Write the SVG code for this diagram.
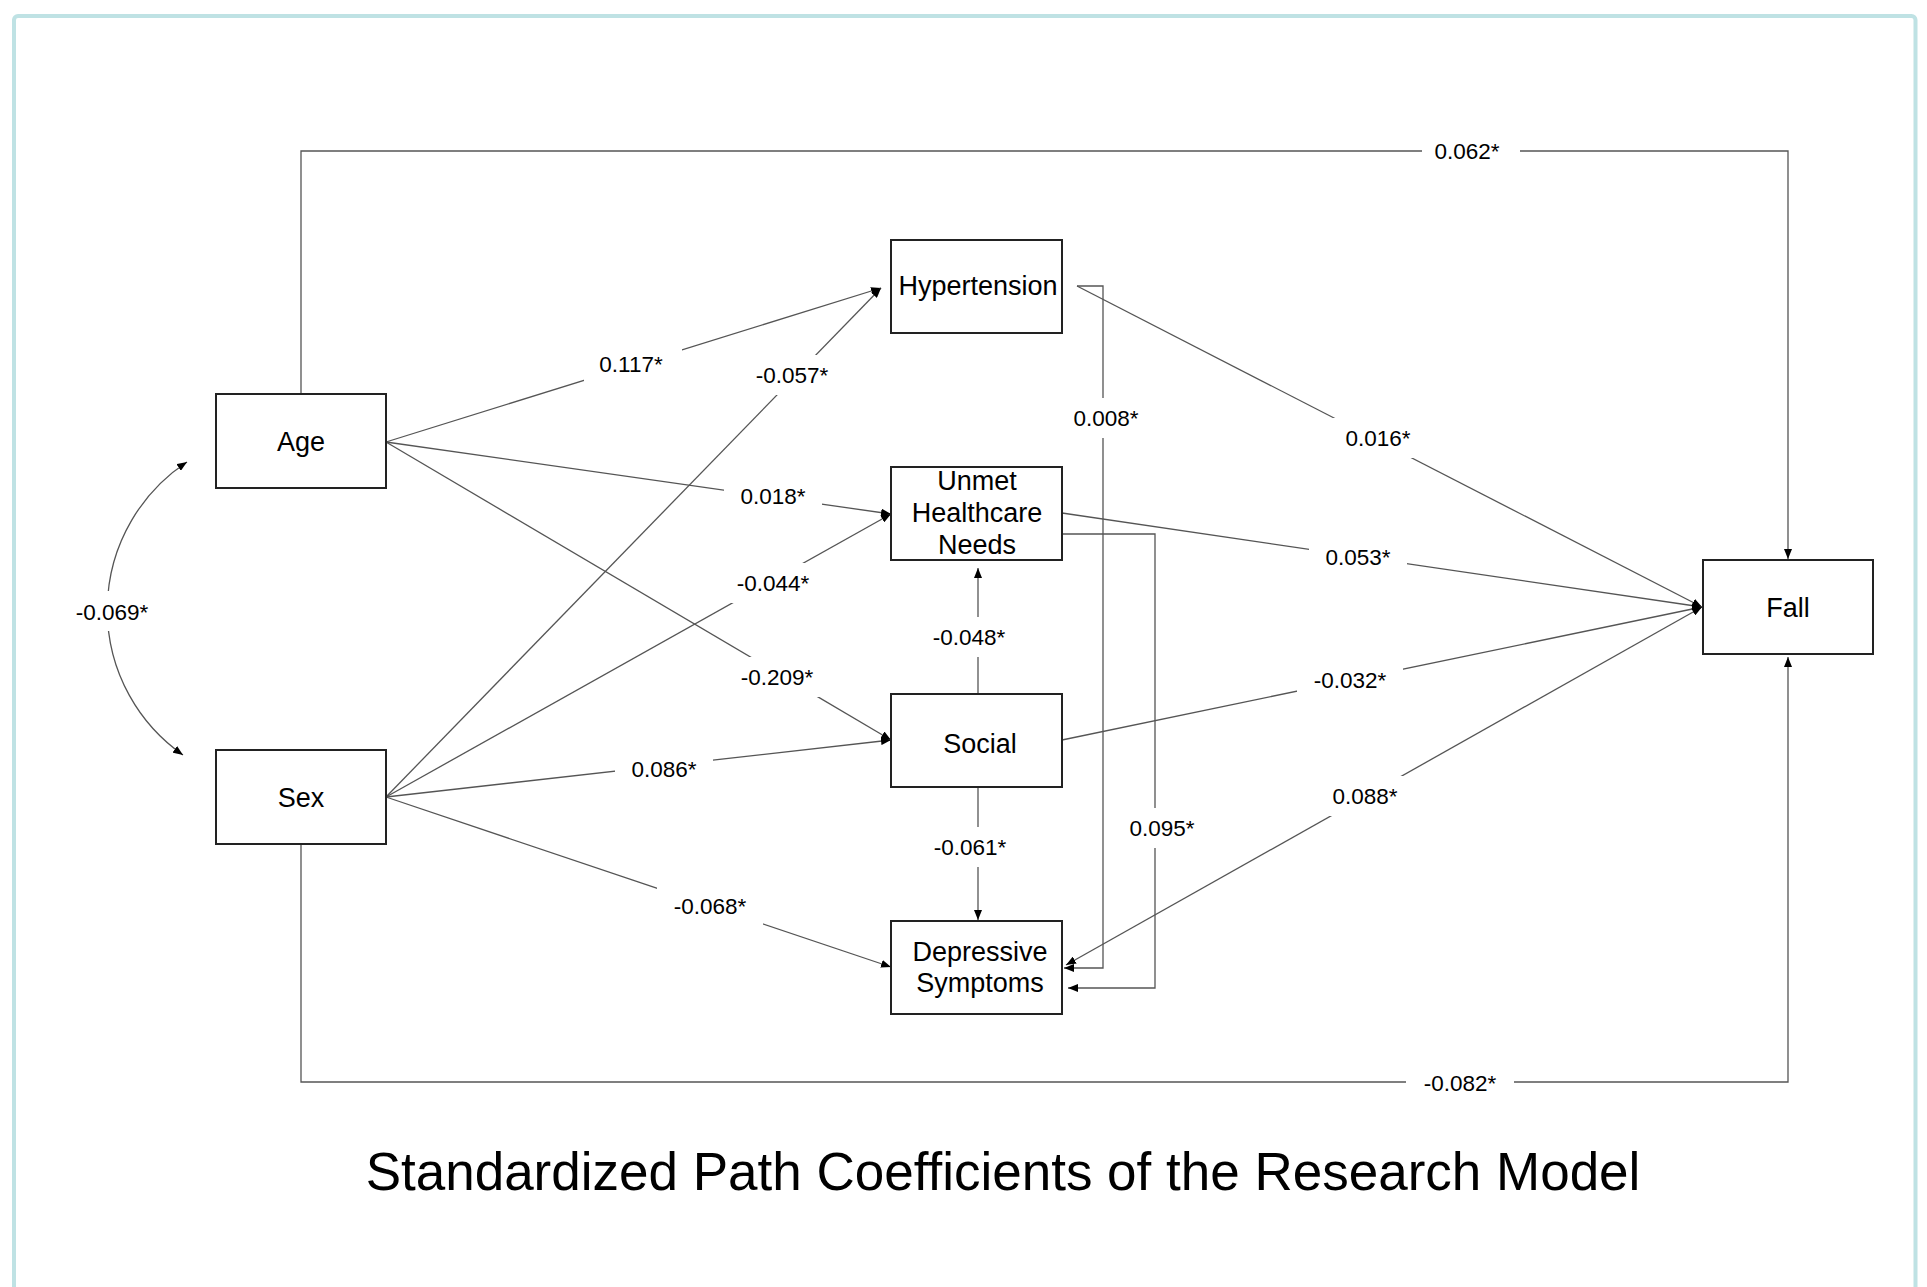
<svg xmlns="http://www.w3.org/2000/svg" width="1927" height="1287" viewBox="0 0 1927 1287">
<style>
.node rect{fill:#fff;stroke:#222;stroke-width:2}
.node text{font-family:"Liberation Sans",Arial,sans-serif;font-size:27px;fill:#000;text-anchor:middle}
.edge{fill:none;stroke:#555;stroke-width:1.3}
.lbl rect{fill:#fff;stroke:none}
.lbl text{font-family:"Liberation Sans",Arial,sans-serif;font-size:22.5px;fill:#000;text-anchor:middle}
.title{font-family:"Liberation Sans",Arial,sans-serif;font-size:53px;fill:#000;text-anchor:middle}
</style>
<defs>
<marker id="ah" markerUnits="userSpaceOnUse" markerWidth="10" markerHeight="8" refX="10" refY="4" orient="auto-start-reverse" viewBox="0 0 10 8">
<path d="M0,0 L10,4 L0,8 z" fill="#000"/>
</marker>
</defs>
<rect x="0" y="0" width="1927" height="1287" fill="#fff"/>
<rect x="14" y="16" width="1901.5" height="1320" rx="4" fill="none" stroke="#bfe2e4" stroke-width="4"/>

<g id="connectors">
<path class="edge" d="M386,442 L881,288" marker-end="url(#ah)"/>
<path class="edge" d="M386,442 L891,514" marker-end="url(#ah)"/>
<path class="edge" d="M386,442 L891,740" marker-end="url(#ah)"/>
<path class="edge" d="M386,797 L881,288" marker-end="url(#ah)"/>
<path class="edge" d="M386,797 L891,514" marker-end="url(#ah)"/>
<path class="edge" d="M386,797 L891,740" marker-end="url(#ah)"/>
<path class="edge" d="M386,797 L891,967" marker-end="url(#ah)"/>
<path class="edge" d="M301,394 V151 H1788 V559" marker-end="url(#ah)"/>
<path class="edge" d="M301,844 V1082 H1788 V657" marker-end="url(#ah)"/>
<path class="edge" d="M1077,286 L1702,607" marker-end="url(#ah)"/>
<path class="edge" d="M1062,513 L1702,607" marker-end="url(#ah)"/>
<path class="edge" d="M1062,740 L1702,607" marker-end="url(#ah)"/>
<path class="edge" d="M1066,965 L1702,607" marker-start="url(#ah)" marker-end="url(#ah)"/>
<path class="edge" d="M1077,286 H1103 V968 H1064" marker-end="url(#ah)"/>
<path class="edge" d="M1062,534 H1155 V988 H1068" marker-end="url(#ah)"/>
<path class="edge" d="M978,694 V568" marker-end="url(#ah)"/>
<path class="edge" d="M978,787 V920" marker-end="url(#ah)"/>
<path class="edge" d="M187,462 A177,177 0 0 0 183,755" marker-start="url(#ah)" marker-end="url(#ah)"/>
</g>

<g id="labels" class="lbl">
<rect x="1422" y="131" width="98" height="40"/><text x="1467" y="159">0.062*</text>
<rect x="1406" y="1063" width="108" height="40"/><text x="1460" y="1091">-0.082*</text>
<rect x="584" y="344" width="98" height="40"/><text x="631" y="372">0.117*</text>
<rect x="739" y="355" width="106" height="40"/><text x="792" y="383">-0.057*</text>
<rect x="724" y="476" width="98" height="40"/><text x="773" y="504">0.018*</text>
<rect x="719" y="563" width="106" height="40"/><text x="773" y="591">-0.044*</text>
<rect x="724" y="657" width="106" height="40"/><text x="777" y="685">-0.209*</text>
<rect x="615" y="749" width="98" height="40"/><text x="664" y="777">0.086*</text>
<rect x="657" y="886" width="106" height="40"/><text x="710" y="914">-0.068*</text>
<rect x="1057" y="398" width="98" height="40"/><text x="1106" y="426">0.008*</text>
<rect x="1329" y="418" width="98" height="40"/><text x="1378" y="446">0.016*</text>
<rect x="1309" y="537" width="98" height="40"/><text x="1358" y="565">0.053*</text>
<rect x="1297" y="660" width="106" height="40"/><text x="1350" y="688">-0.032*</text>
<rect x="1316" y="776" width="98" height="40"/><text x="1365" y="804">0.088*</text>
<rect x="1113" y="808" width="98" height="40"/><text x="1162" y="836">0.095*</text>
<rect x="916" y="617" width="106" height="40"/><text x="969" y="645">-0.048*</text>
<rect x="917" y="827" width="106" height="40"/><text x="970" y="855">-0.061*</text>
<rect x="59" y="591" width="106" height="40"/><text x="112" y="620">-0.069*</text>
</g>

<g id="node-age" class="node"><rect x="216" y="394" width="170" height="94"/><text x="301" y="451">Age</text></g>
<g id="node-sex" class="node"><rect x="216" y="750" width="170" height="94"/><text x="301" y="807">Sex</text></g>
<g id="node-hypertension" class="node"><rect x="891" y="240" width="171" height="93"/><text x="978" y="295">Hypertension</text></g>
<g id="node-unmet" class="node"><rect x="891" y="467" width="171" height="93"/><text x="977" y="490">Unmet</text><text x="977" y="522">Healthcare</text><text x="977" y="554">Needs</text></g>
<g id="node-social" class="node"><rect x="891" y="694" width="171" height="93"/><text x="980" y="753">Social</text></g>
<g id="node-depressive" class="node"><rect x="891" y="921" width="171" height="93"/><text x="980" y="961">Depressive</text><text x="980" y="992">Symptoms</text></g>
<g id="node-fall" class="node"><rect x="1703" y="560" width="170" height="94"/><text x="1788" y="617">Fall</text></g>

<text class="title" x="1003" y="1190">Standardized Path Coefficients of the Research Model</text>
</svg>
